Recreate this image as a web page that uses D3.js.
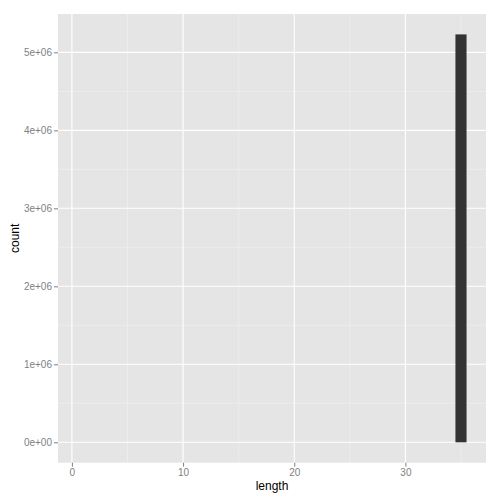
<!DOCTYPE html>
<html><head><meta charset="utf-8">
<script src="https://cdn.jsdelivr.net/npm/d3@7"></script>
<style>body{margin:0;background:#fff}svg{display:block}text{font-family:"Liberation Sans",Arial,sans-serif}</style>
</head><body><svg id="c" width="500" height="500"></svg>
<script>
// histogram bins (binwidth 1), centers 1..35
const binCenters = d3.range(1, 36);
const binCounts = [0,0,0,0,0,0,0,0,0,0,0,0,0,0,0,0,0,0,0,0,0,0,0,0,0,0,0,0,0,0,0,0,0,0,5230000];
const xTicks = [0, 10, 20, 30];
const yTicks = [0, 1e6, 2e6, 3e6, 4e6, 5e6];
const yTickLabels = ["0e+00","1e+06","2e+06","3e+06","4e+06","5e+06"];
const binWidth = 1;

const L = 58, R = 486, T = 14, B = 462.7;
const svg = d3.select("#c");
const xmin = 0.5, xmax = 35.5, xexp = (xmax - xmin) * 0.05;
const ymax = d3.max(binCounts), yexp = ymax * 0.05;
const x = d3.scaleLinear().domain([xmin - xexp, xmax + xexp]).range([L, R]);
const y = d3.scaleLinear().domain([-yexp, ymax + yexp]).range([B, T]);

svg.append("rect").attr("x", L).attr("y", T).attr("width", R - L).attr("height", B - T).attr("fill", "#E5E5E5");

const xMinor = [5, 15, 25, 35];
const yMinor = [0.5e6, 1.5e6, 2.5e6, 3.5e6, 4.5e6];
const g = svg.append("g");
g.selectAll(".xm").data(xMinor).join("line").attr("x1", d => x(d)).attr("x2", d => x(d)).attr("y1", T).attr("y2", B).attr("stroke", "#F2F2F2").attr("stroke-width", 0.6);
g.selectAll(".ym").data(yMinor).join("line").attr("y1", d => y(d)).attr("y2", d => y(d)).attr("x1", L).attr("x2", R).attr("stroke", "#F2F2F2").attr("stroke-width", 0.6);
g.selectAll(".xM").data(xTicks).join("line").attr("x1", d => x(d)).attr("x2", d => x(d)).attr("y1", T).attr("y2", B).attr("stroke", "#fff").attr("stroke-width", 1.1);
g.selectAll(".yM").data(yTicks).join("line").attr("y1", d => y(d)).attr("y2", d => y(d)).attr("x1", L).attr("x2", R).attr("stroke", "#fff").attr("stroke-width", 1.1);

svg.append("g").selectAll("rect").data(binCenters.map((c, i) => ({c, n: binCounts[i]})).filter(d => d.n > 0))
  .join("rect")
  .attr("x", d => x(d.c - binWidth / 2)).attr("width", d => x(d.c + binWidth / 2) - x(d.c - binWidth / 2))
  .attr("y", d => y(d.n)).attr("height", d => y(0) - y(d.n))
  .attr("fill", "#333333");

// axes
const xAxis = svg.append("g").attr("transform", `translate(0,${B})`)
  .call(d3.axisBottom(x).tickValues(xTicks).tickSize(4).tickPadding(2).tickFormat(d3.format("d")));
const yAxis = svg.append("g").attr("transform", `translate(${L},0)`)
  .call(d3.axisLeft(y).tickValues(yTicks).tickSize(4).tickPadding(2).tickFormat((d, i) => yTickLabels[i]));
[xAxis, yAxis].forEach(a => {
  a.select(".domain").remove();
  a.selectAll(".tick line").attr("stroke", "#7F7F7F");
  a.selectAll(".tick text").attr("fill", "#7F7F7F").style("font-size", "10px").style("font-family", '"Liberation Sans",Arial,sans-serif');
});

svg.append("text").attr("x", (L + R) / 2).attr("y", 490).attr("text-anchor", "middle").style("font-size", "12px").attr("fill", "#000").text("length");
svg.append("text").attr("transform", `translate(19,${(T + B) / 2}) rotate(-90)`).attr("text-anchor", "middle").style("font-size", "12px").attr("fill", "#000").text("count");
</script></body></html>
